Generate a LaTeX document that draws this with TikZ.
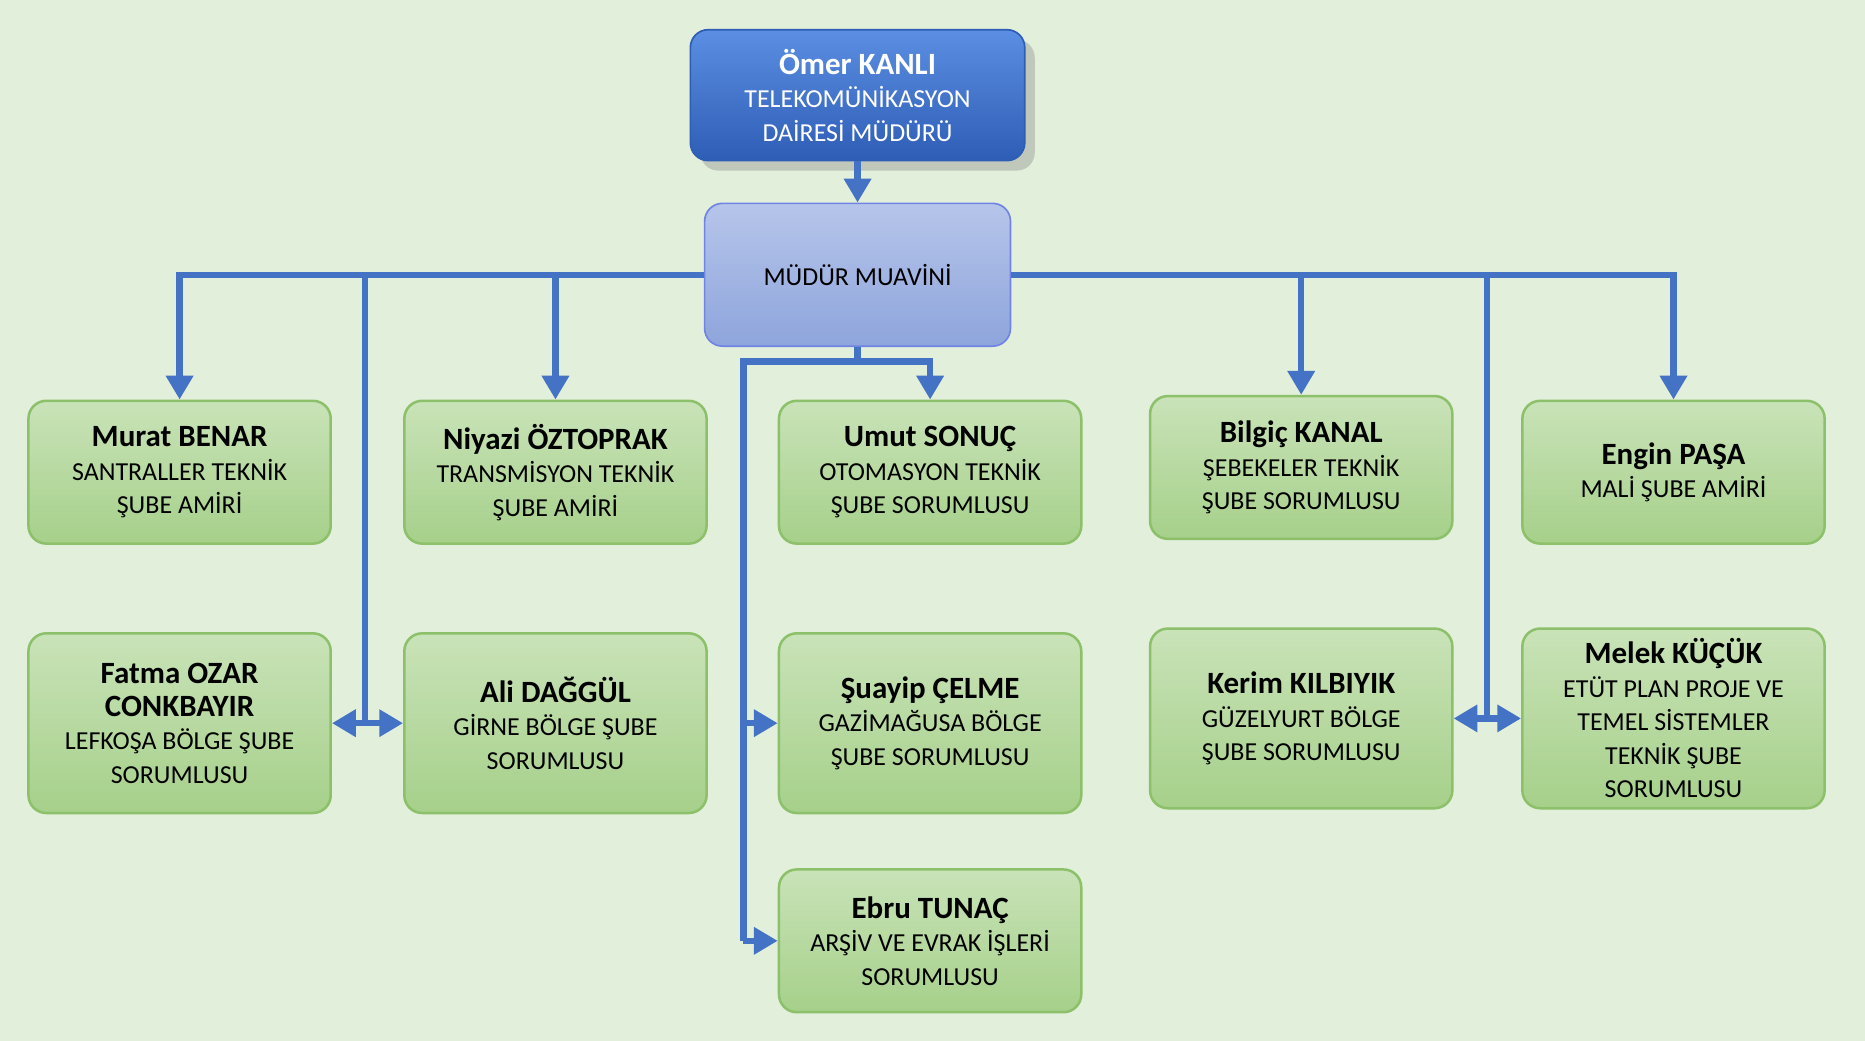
\documentclass[tikz,border=0pt]{standalone}
\usepackage{fontspec}
\setmainfont{Carlito}
\usetikzlibrary{arrows.meta,shadows}

\definecolor{bgcol}{HTML}{E2EFDA}
\definecolor{linkcol}{HTML}{4472C4}
\definecolor{boxtop}{HTML}{C9E3B8}
\definecolor{boxbot}{HTML}{A6D08A}
\definecolor{boxline}{HTML}{8CC06A}
\definecolor{headtop}{HTML}{5B8FE3}
\definecolor{headbot}{HTML}{2E5DB5}
\definecolor{subtop}{HTML}{B6C5EA}
\definecolor{subbot}{HTML}{8EA5DC}

\newcommand{\nm}[1]{{\fontsize{7.4}{8.6}\selectfont\bfseries #1}}

\begin{document}
\begin{tikzpicture}[x=0.01cm, y=-0.01cm,
  unit/.style={rounded corners=0.15cm, draw=boxline, line width=0.6pt,
    top color=boxtop, bottom color=boxbot, minimum width=2.54cm,
    minimum height=1.2cm, align=center, font=\fontsize{6.2}{8}\selectfont,
    inner sep=1pt},
  tall/.style={unit, minimum height=1.51cm},
  conn/.style={linkcol, line width=1.5pt},
  arr/.style={conn, -{Triangle[length=0.2cm, width=0.22cm]}}]
  % background
  \fill[bgcol] (0,0) rectangle (1568,875);
  % heads
  \node[rounded corners=0.15cm, top color=headtop, bottom color=headbot, draw=headbot,
    minimum width=2.81cm, minimum height=1.1cm, align=center, text=white,
    font=\fontsize{6.2}{8}\selectfont, drop shadow={opacity=0.35}] (mudur) at (721,80)
    {\nm{Ömer KANLI}\\TELEKOMÜNİKASYON\\DAİRESİ MÜDÜRÜ};
  \node[rounded corners=0.15cm, top color=subtop, bottom color=subbot, draw=subbot!80!blue,
    minimum width=2.57cm, minimum height=1.2cm, font=\fontsize{6.2}{8}\selectfont] (muavin) at (721,231)
    {MÜDÜR MUAVİNİ};
  % first row
  \node[unit] (murat) at (151,397) {\nm{Murat BENAR}\\SANTRALLER TEKNİK\\ŞUBE AMİRİ};
  \node[unit] (niyazi) at (467,397) {\nm{Niyazi ÖZTOPRAK}\\TRANSMİSYON TEKNİK\\ŞUBE AMİRİ};
  \node[unit] (umut) at (782,397) {\nm{Umut SONUÇ}\\OTOMASYON TEKNİK\\ŞUBE SORUMLUSU};
  \node[unit] (bilgic) at (1094,393) {\nm{Bilgiç KANAL}\\ŞEBEKELER TEKNİK\\ŞUBE SORUMLUSU};
  \node[unit] (engin) at (1407,397) {\nm{Engin PAŞA}\\MALİ ŞUBE AMİRİ};
  % second row
  \node[tall] (fatma) at (151,608) {\nm{Fatma OZAR}\\\nm{CONKBAYIR}\\LEFKOŞA BÖLGE ŞUBE\\SORUMLUSU};
  \node[tall] (ali) at (467,608) {\nm{Ali DAĞGÜL}\\GİRNE BÖLGE ŞUBE\\SORUMLUSU};
  \node[tall] (suayip) at (782,608) {\nm{Şuayip ÇELME}\\GAZİMAĞUSA BÖLGE\\ŞUBE SORUMLUSU};
  \node[tall] (kerim) at (1094,604) {\nm{Kerim KILBIYIK}\\GÜZELYURT BÖLGE\\ŞUBE SORUMLUSU};
  \node[tall] (melek) at (1407,604) {\nm{Melek KÜÇÜK}\\ETÜT PLAN PROJE VE\\TEMEL SİSTEMLER\\TEKNİK ŞUBE\\SORUMLUSU};
  % third row
  \node[unit] (ebru) at (782,791) {\nm{Ebru TUNAÇ}\\ARŞİV VE EVRAK İŞLERİ\\SORUMLUSU};
  % joints
  \coordinate (jl) at (307,231);
  \coordinate (jlb) at (307,608);
  \coordinate (jn) at (467,231);
  \coordinate (jb) at (1094,231);
  \coordinate (jr) at (1250,231);
  \coordinate (jrb) at (1250,604);
  \coordinate (jc) at (721,304);
  \coordinate (jd) at (625,304);
  \coordinate (js) at (625,608);
  \coordinate (je) at (625,791);
  % connectors
  \draw[arr] (mudur) -- (muavin);
  \draw[arr] (muavin.west) -| (murat);
  \draw[arr] (jn) -- (niyazi);
  \draw[conn] (jl) -- (jlb);
  \draw[arr] (jlb) -- (fatma.east);
  \draw[arr] (jlb) -- (ali.west);
  \draw[arr] (muavin.east) -| (engin);
  \draw[arr] (jb) -- (bilgic);
  \draw[conn] (jr) -- (jrb);
  \draw[arr] (jrb) -- (kerim.east);
  \draw[arr] (jrb) -- (melek.west);
  \draw[arr] (muavin.south) -- (jc) -| (umut);
  \draw[conn] (jc) -- (jd) -- (je);
  \draw[arr] (js) -- (suayip.west);
  \draw[arr] (je) -- (ebru.west);
\end{tikzpicture}
\end{document}
